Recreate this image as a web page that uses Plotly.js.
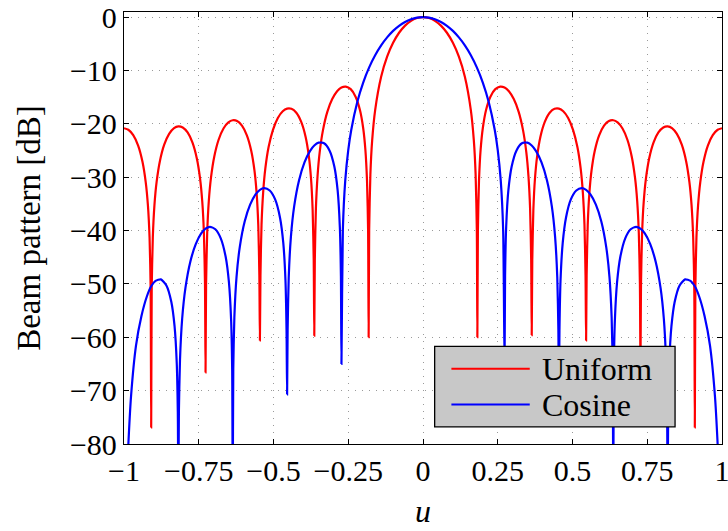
<!DOCTYPE html>
<html>
<head>
<meta charset="utf-8">
<script src="https://cdn.plot.ly/plotly-3.0.1.min.js"></script>
<style>
html,body{margin:0;padding:0;background:#fff;}
#chart{width:728px;height:531px;}
</style>
</head>
<body>
<div id="chart"></div>
<script>
// ---- data ----
const seriesNames = ["Uniform", "Cosine"];

const uUniNeg = [-1.0, -0.9855, -0.9691, -0.9527, -0.9382, -0.9273, -0.9200, -0.9145, -0.9109, -0.9091, -0.9073, -0.9036, -0.8982, -0.8909, -0.8800, -0.8655, -0.8491, -0.8327, -0.8182, -0.8036, -0.7873, -0.7709, -0.7564, -0.7455, -0.7382, -0.7327, -0.7291, -0.7273, -0.7255, -0.7218, -0.7164, -0.7091, -0.6982, -0.6836, -0.6673, -0.6509, -0.6364, -0.6218, -0.6055, -0.5891, -0.5745, -0.5636, -0.5564, -0.5509, -0.5473, -0.5455, -0.5436, -0.5400, -0.5345, -0.5273, -0.5164, -0.5018, -0.4855, -0.4691, -0.4545, -0.4400, -0.4236, -0.4073, -0.3927, -0.3818, -0.3745, -0.3691, -0.3655, -0.3636, -0.3618, -0.3582, -0.3527, -0.3455, -0.3345, -0.3200, -0.3036, -0.2873, -0.2727, -0.2582, -0.2418, -0.2255, -0.2109, -0.2000, -0.1927, -0.1873, -0.1836, -0.1818, -0.18, -0.176, -0.17, -0.16, -0.14, -0.12, -0.10, -0.08, -0.06, -0.04, -0.02];
const dbUniNeg = [-20.83, -21.11, -22.12, -24.09, -27.13, -30.97, -35.30, -41.28, -50.81, -76.9, -50.80, -41.26, -35.25, -30.89, -27.00, -23.91, -21.88, -20.79, -20.47, -20.68, -21.62, -23.53, -26.50, -30.30, -34.61, -40.57, -50.08, -66.6, -50.06, -40.51, -34.48, -30.09, -26.16, -22.99, -20.87, -19.73, -19.33, -19.47, -20.34, -22.16, -25.05, -28.79, -33.05, -38.98, -48.47, -60.6, -48.43, -38.85, -32.79, -28.36, -24.36, -21.13, -18.90, -17.64, -17.15, -17.19, -17.92, -19.63, -22.41, -26.05, -30.25, -36.13, -45.58, -59.7, -45.51, -35.90, -29.79, -25.29, -21.18, -17.77, -15.37, -13.90, -13.20, -13.03, -13.51, -14.92, -17.41, -20.83, -24.86, -30.60, -39.97, -60.0, -39.8, -29.52, -23.12, -17.42, -11.19, -7.43, -4.82, -2.94, -1.60, -0.70, -0.17];
const uUniPos = [0, 0.02, 0.04, 0.06, 0.08, 0.10, 0.12, 0.14, 0.16, 0.17, 0.176, 0.18, 0.1818, 0.1836, 0.1873, 0.1927, 0.2000, 0.2109, 0.2255, 0.2418, 0.2582, 0.2727, 0.2873, 0.3036, 0.3200, 0.3345, 0.3455, 0.3527, 0.3582, 0.3618, 0.3636, 0.3655, 0.3691, 0.3745, 0.3818, 0.3927, 0.4073, 0.4236, 0.4400, 0.4545, 0.4691, 0.4855, 0.5018, 0.5164, 0.5273, 0.5345, 0.5400, 0.5436, 0.5455, 0.5473, 0.5509, 0.5564, 0.5636, 0.5745, 0.5891, 0.6055, 0.6218, 0.6364, 0.6509, 0.6673, 0.6836, 0.6982, 0.7091, 0.7164, 0.7218, 0.7255, 0.7273, 0.7291, 0.7327, 0.7382, 0.7455, 0.7564, 0.7709, 0.7873, 0.8036, 0.8182, 0.8327, 0.8491, 0.8655, 0.8800, 0.8909, 0.8982, 0.9036, 0.9073, 0.9091, 0.9109, 0.9145, 0.9200, 0.9273, 0.9382, 0.9527, 0.9691, 0.9855, 1.0];
const dbUniPos = [0, -0.17, -0.70, -1.60, -2.94, -4.82, -7.43, -11.19, -17.42, -23.12, -29.52, -39.8, -60.0, -39.97, -30.60, -24.86, -20.83, -17.41, -14.92, -13.51, -13.03, -13.20, -13.90, -15.37, -17.77, -21.18, -25.29, -29.79, -35.90, -45.51, -59.6, -45.58, -36.13, -30.25, -26.05, -22.41, -19.63, -17.92, -17.19, -17.15, -17.64, -18.90, -21.13, -24.36, -28.36, -32.79, -38.85, -48.43, -60.6, -48.47, -38.98, -33.05, -28.79, -25.05, -22.16, -20.34, -19.47, -19.33, -19.73, -20.87, -22.99, -26.16, -30.09, -34.48, -40.51, -50.06, -66.0, -50.08, -40.57, -34.61, -30.30, -26.50, -23.53, -21.62, -20.68, -20.47, -20.79, -21.88, -23.91, -27.00, -30.89, -35.25, -41.26, -50.80, -76.9, -50.81, -41.28, -35.30, -30.97, -27.13, -24.09, -22.12, -21.11, -20.83];

const uCosNeg = [-1.0, -0.9873, -0.9764, -0.9600, -0.9418, -0.9236, -0.9091, -0.8945, -0.8764, -0.8582, -0.8418, -0.8309, -0.8236, -0.8200, -0.8182, -0.8164, -0.8127, -0.8055, -0.7945, -0.7782, -0.7600, -0.7418, -0.7273, -0.7127, -0.6945, -0.6764, -0.6600, -0.6491, -0.6418, -0.6382, -0.6364, -0.6345, -0.6309, -0.6236, -0.6127, -0.5964, -0.5782, -0.5600, -0.5455, -0.5309, -0.5127, -0.4945, -0.4782, -0.4673, -0.4600, -0.4564, -0.4545, -0.4527, -0.4491, -0.4418, -0.4309, -0.4145, -0.3964, -0.3782, -0.3636, -0.3491, -0.3309, -0.3127, -0.2964, -0.2855, -0.2782, -0.2745, -0.2727, -0.268, -0.26, -0.25, -0.24, -0.22, -0.20, -0.18, -0.16, -0.14, -0.12, -0.10, -0.08, -0.06, -0.04, -0.02];
const dbCosNeg = [-100, -82.2, -71.00, -61.60, -56.05, -52.36, -50.45, -49.44, -49.15, -50.29, -53.35, -57.93, -64.81, -74.13, -90, -73.93, -64.21, -56.53, -50.75, -45.84, -42.56, -40.55, -39.64, -39.31, -39.76, -41.46, -44.91, -49.68, -56.70, -66.08, -90, -65.94, -56.27, -48.69, -43.05, -38.30, -35.14, -33.23, -32.37, -32.06, -32.50, -34.17, -37.59, -42.32, -49.30, -58.67, -70.7, -58.51, -48.81, -41.18, -35.47, -30.57, -27.24, -25.11, -24.06, -23.53, -23.66, -24.98, -28.03, -32.48, -39.26, -48.54, -65.0, -39.76, -30.60, -24.92, -21.15, -15.95, -12.27, -9.43, -7.16, -5.31, -3.81, -2.59, -1.64, -0.91, -0.40, -0.10];
const uCosPos = [0, 0.02, 0.04, 0.06, 0.08, 0.10, 0.12, 0.14, 0.16, 0.18, 0.20, 0.22, 0.24, 0.25, 0.26, 0.268, 0.2727, 0.2745, 0.2782, 0.2855, 0.2964, 0.3127, 0.3309, 0.3491, 0.3636, 0.3782, 0.3964, 0.4145, 0.4309, 0.4418, 0.4491, 0.4527, 0.4545, 0.4564, 0.4600, 0.4673, 0.4782, 0.4945, 0.5127, 0.5309, 0.5455, 0.5600, 0.5782, 0.5964, 0.6127, 0.6236, 0.6309, 0.6345, 0.6364, 0.6382, 0.6418, 0.6491, 0.6600, 0.6764, 0.6945, 0.7127, 0.7273, 0.7418, 0.7600, 0.7782, 0.7945, 0.8055, 0.8127, 0.8164, 0.8182, 0.8200, 0.8236, 0.8309, 0.8418, 0.8582, 0.8764, 0.8945, 0.9091, 0.9236, 0.9418, 0.9600, 0.9764, 0.9873, 1.0];
const dbCosPos = [0, -0.10, -0.40, -0.91, -1.64, -2.59, -3.81, -5.31, -7.16, -9.43, -12.27, -15.95, -21.15, -24.92, -30.60, -39.76, -65.0, -48.54, -39.26, -32.48, -28.03, -24.98, -23.66, -23.53, -24.06, -25.11, -27.24, -30.57, -35.47, -41.18, -48.81, -58.51, -70.7, -58.67, -49.30, -42.32, -37.59, -34.17, -32.50, -32.06, -32.37, -33.23, -35.14, -38.30, -43.05, -48.69, -56.27, -65.94, -90, -66.08, -56.70, -49.68, -44.91, -41.46, -39.76, -39.31, -39.64, -40.55, -42.56, -45.84, -50.75, -56.53, -64.21, -73.93, -90, -74.13, -64.81, -57.93, -53.35, -50.29, -49.15, -49.44, -50.45, -52.36, -56.05, -61.60, -71.00, -82.2, -100];

const xTickVals = [-1, -0.75, -0.5, -0.25, 0, 0.25, 0.5, 0.75, 1];
const xTickText = ["\u22121", "\u22120.75", "\u22120.5", "\u22120.25", "0", "0.25", "0.5", "0.75", "1"];
const yTickVals = [-80, -70, -60, -50, -40, -30, -20, -10, 0];
const yTickText = ["\u221280", "\u221270", "\u221260", "\u221250", "\u221240", "\u221230", "\u221220", "\u221210", "0"];

const colors = ["#ff0000", "#0000ff"];
const FONT = "Liberation Serif";

const traces = [
  {x: uUniNeg.concat(uUniPos), y: dbUniNeg.concat(dbUniPos), name: seriesNames[0], type: "scatter", mode: "lines",
   line: {color: colors[0], width: 2.2, shape: "spline", smoothing: 0.6}},
  {x: uCosNeg.concat(uCosPos), y: dbCosNeg.concat(dbCosPos), name: seriesNames[1], type: "scatter", mode: "lines",
   line: {color: colors[1], width: 2.2, shape: "spline", smoothing: 0.6}}
];

// custom legend box (MATLAB style) in data coordinates
const lgX0 = 0.039, lgX1 = 0.843, lgY0 = -76.8, lgY1 = -61.7;
const lgLineX0 = 0.095, lgLineX1 = 0.357, lgTextX = 0.391;
const lgRows = [-65.9, -72.6];

const shapes = [
  {type: "rect", xref: "x", yref: "y", x0: lgX0, x1: lgX1, y0: lgY0, y1: lgY1,
   fillcolor: "#c8c8c8", line: {color: "black", width: 1.3}, layer: "above"},
  {type: "line", xref: "x", yref: "y", x0: lgLineX0, x1: lgLineX1, y0: lgRows[0], y1: lgRows[0],
   line: {color: colors[0], width: 2.2}, layer: "above"},
  {type: "line", xref: "x", yref: "y", x0: lgLineX0, x1: lgLineX1, y0: lgRows[1], y1: lgRows[1],
   line: {color: colors[1], width: 2.2}, layer: "above"}
];
const annotations = seriesNames.map((n, i) => ({
  text: n, xref: "x", yref: "y", x: lgTextX, y: lgRows[i], xanchor: "left", yanchor: "middle",
  showarrow: false, font: {family: FONT, size: 32}
}));

const axisCommon = {
  ticks: "inside", ticklen: 5, tickwidth: 1, tickcolor: "black",
  showline: true, linecolor: "black", linewidth: 1.2, mirror: "ticks",
  showgrid: true, gridcolor: "#9a9a9a", gridwidth: 1, griddash: "1px,6px",
  zeroline: false, ticklabeloverflow: "allow",
  tickfont: {family: FONT, size: 30}
};

const layout = {
  width: 728, height: 531,
  margin: {l: 124, r: 6, t: 12, b: 87, pad: 0},
  paper_bgcolor: "white", plot_bgcolor: "white",
  font: {family: FONT, size: 30, color: "black"},
  showlegend: false,
  xaxis: Object.assign({}, axisCommon, {
    range: [-1, 1], tickmode: "array", tickvals: xTickVals, ticktext: xTickText,
    title: {text: "<i>u</i>", font: {family: FONT, size: 32}, standoff: 13}
  }),
  yaxis: Object.assign({}, axisCommon, {
    range: [-80, 0.95], tickmode: "array", tickvals: yTickVals, ticktext: yTickText,
    title: {text: "Beam pattern [dB]", font: {family: FONT, size: 33}, standoff: 19}
  }),
  shapes: shapes,
  annotations: annotations
};

Plotly.newPlot("chart", traces, layout, {staticPlot: true, displayModeBar: false});
</script>
</body>
</html>
